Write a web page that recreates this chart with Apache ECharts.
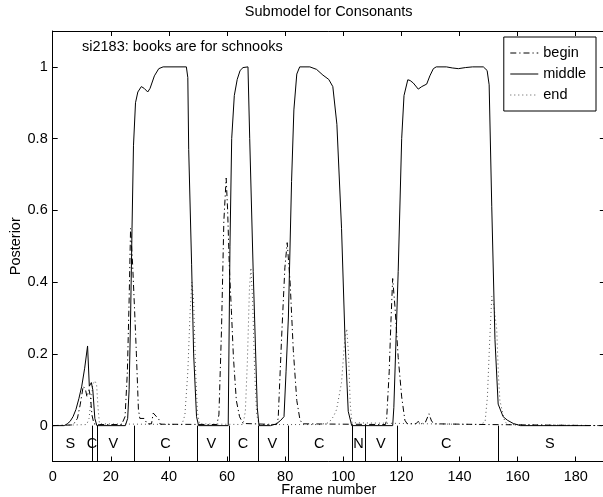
<!DOCTYPE html>
<html>
<head>
<meta charset="utf-8">
<script src="https://cdn.jsdelivr.net/npm/echarts@6/dist/echarts.min.js"></script>
<style>
html,body{margin:0;padding:0;background:#fff;}
#chart{width:603px;height:497px;}
</style>
</head>
<body>
<div id="chart"></div>
<script>
// ---- data ----
const xTicks = [0, 20, 40, 60, 80, 100, 120, 140, 160, 180];
const yTicks = [0, 0.2, 0.4, 0.6, 0.8, 1];

const middle = [
  [0,0],[4,0],[5,0.005],[6,0.012],[7,0.025],[8,0.045],[9,0.075],[10,0.11],[11,0.16],[12,0.222],
  [12.6,0.11],[13.3,0.12],[13.8,0.1],[14.5,0.02],[15.2,0],
  [25,0],[25.8,0.02],[26.3,0.1],[26.8,0.3],[27.3,0.55],[27.8,0.78],[28.5,0.9],[29.3,0.93],[30.5,0.945],
  [31.5,0.94],[32.7,0.93],[33.5,0.94],[35,0.975],[36.5,0.995],[38,1.0],[46,1.0],[46.5,0.97],[46.8,0.77],
  [47.8,0.45],[48.5,0.2],[49.5,0.025],[50.2,0],
  [60.4,0],[61,0.5],[61.6,0.8],[62.5,0.92],[63.5,0.965],[64.5,0.99],[65.5,0.998],[67.2,1.0],[67.8,0.8],
  [69,0.43],[70.4,0.05],[71,0],
  [75,0],[77,0.005],[78.5,0.015],[79.6,0.025],[80.3,0.15],[81.1,0.3],[82.2,0.68],[83,0.88],[84,0.98],
  [85,1.0],[88.5,1.0],[90.8,0.993],[93,0.977],[95,0.965],[96.4,0.945],[97.8,0.84],[99.4,0.55],
  [100.6,0.24],[101.7,0.04],[102.9,0],
  [117,0],[117.4,0.05],[118.9,0.43],[120.1,0.8],[120.9,0.92],[122.2,0.964],[123,0.962],[124.1,0.955],
  [125.8,0.938],[127,0.945],[128.7,0.952],[129.8,0.975],[131,0.995],[132,1.0],[135.5,1.0],[137.5,0.997],
  [139.6,0.995],[142,0.998],[144.5,1.0],[148.2,1.0],[149.5,0.99],[150.2,0.95],[151.1,0.61],[152.2,0.24],
  [153.3,0.06],[155,0.025],[156.5,0.015],[158.5,0.006],[161,0],[185,0]
];

const begin = [
  [0,0],[7,0.002],[8.5,0.02],[9.5,0.06],[10.5,0.11],[11.3,0.1],[11.8,0.08],[12.5,0.1],[13,0.08],
  [13.5,0.03],[14.2,0.005],[16,0.003],
  [23.7,0.003],[24.9,0.025],[25.7,0.15],[26.3,0.35],[26.8,0.55],[27.5,0.45],[28.3,0.3],[28.8,0.2],
  [29.5,0.045],[30,0.02],[31.5,0.02],[32.5,0.005],[34,0.005],[34.6,0.035],[36.5,0.018],[37,0.004],
  [56.5,0.003],[57.2,0.03],[58.1,0.27],[58.9,0.57],[59.7,0.69],[60.2,0.6],[60.8,0.44],[61.5,0.32],
  [62.2,0.19],[63.2,0.07],[64.3,0.025],[65.5,0.006],
  [77,0.003],[77.6,0.02],[78.8,0.25],[79.9,0.44],[80.7,0.51],[81.7,0.4],[82.8,0.21],[84,0.07],
  [85.1,0.016],[86,0.005],
  [114.5,0.003],[114.9,0.015],[115.8,0.15],[116.4,0.29],[117,0.41],[117.8,0.33],[118.9,0.19],
  [120.1,0.08],[121.2,0.015],[122,0.005],
  [125,0.005],[125.8,0.012],[126.5,0.004],[128.3,0.01],[129.5,0.033],[130.4,0.012],[131.5,0.005],
  [150,0.003],[189,0]
];

const end = [
  [0,0],[11.7,0.003],[12.5,0.02],[13.2,0.07],[13.8,0.115],[14.5,0.125],[15.1,0.115],[15.6,0.05],[16.1,0.005],
  [44.5,0.003],[45.5,0.03],[46.5,0.15],[47.3,0.32],[47.9,0.4],[48.5,0.35],[49.2,0.15],[49.8,0.04],[50.5,0.005],
  [65.5,0.003],[66.3,0.04],[67,0.18],[67.7,0.38],[68.2,0.44],[68.8,0.35],[69.5,0.15],[70.2,0.03],[71,0.003],
  [92,0.003],[95,0.008],[96.6,0.025],[97.7,0.045],[99.4,0.12],[100.5,0.24],[101.2,0.27],[101.8,0.2],
  [102.4,0.06],[103,0.008],
  [147,0.003],[148.8,0.01],[149.6,0.08],[150.3,0.22],[151.1,0.36],[151.7,0.34],[152.8,0.27],[153.4,0.14],
  [153.9,0.07],[155.6,0.01],[157,0.003],[189,0]
];

const segBounds = [13.4, 15.2, 27.9, 49.8, 60.7, 70.8, 81.1, 103.1, 107.6, 118.6, 153.1];
const segLabels = ['S','C','V','C','V','C','V','C','N','V','C','S'];
const segLabelX = [6.1, 13.5, 20.9, 38.8, 54.6, 65.5, 75.6, 91.7, 105.2, 112.9, 135.4, 171.1];

// ---- chart ----
const FONT = 'Liberation Sans, Arial, Helvetica, sans-serif';
const FS = 14.5;
const chart = echarts.init(document.getElementById('chart'), null, {renderer: 'canvas'});

const axisCommon = {
  type: 'value',
  splitLine: {show: false},
  axisLine: {show: true, onZero: false, lineStyle: {color: '#000', width: 1}},
  axisTick: {show: true, inside: true, length: 5, lineStyle: {color: '#000', width: 1}}
};

chart.setOption({
  animation: false,
  backgroundColor: '#fff',
  textStyle: {fontFamily: FONT, color: '#000'},
  title: {
    text: 'Submodel for Consonants',
    left: 328.7, top: 4, padding: 0, textAlign: 'center',
    textStyle: {fontFamily: FONT, fontSize: FS, fontWeight: 'normal', color: '#000'}
  },
  grid: {left: 52.7, right: -1.8, top: 31, bottom: 35.5, containLabel: false, outerBoundsMode: 'none'},
  legend: {
    data: ['begin', 'middle', 'end'],
    orient: 'vertical',
    right: 7, top: 37,
    align: 'left',
    itemWidth: 28, itemHeight: 14, itemGap: 5,
    padding: [8, 10, 8, 6],
    borderColor: '#000', borderWidth: 1,
    backgroundColor: '#fff',
    itemStyle: {opacity: 0},
    lineStyle: {width: 1},
    textStyle: {fontFamily: FONT, fontSize: FS, color: '#000', lineHeight: 16}
  },
  xAxis: [
    Object.assign({}, axisCommon, {
      min: 0, max: 190, position: 'bottom',
      axisLabel: {customValues: xTicks, fontFamily: FONT, fontSize: FS, color: '#000', margin: 8},
      axisTick: Object.assign({}, axisCommon.axisTick, {customValues: xTicks}),
      name: 'Frame number', nameLocation: 'middle', nameGap: 21, nameMoveOverlap: false,
      nameTextStyle: {fontFamily: FONT, fontSize: FS, color: '#000'}
    }),
    Object.assign({}, axisCommon, {
      min: 0, max: 190, position: 'top',
      axisLabel: {show: false, customValues: xTicks},
      axisTick: Object.assign({}, axisCommon.axisTick, {customValues: xTicks})
    })
  ],
  yAxis: [
    Object.assign({}, axisCommon, {
      min: -0.1, max: 1.1, position: 'left',
      axisLabel: {customValues: yTicks, fontFamily: FONT, fontSize: FS, color: '#000', margin: 5},
      axisTick: Object.assign({}, axisCommon.axisTick, {customValues: yTicks}),
      name: 'Posterior', nameLocation: 'middle', nameGap: 29, nameMoveOverlap: false,
      nameTextStyle: {fontFamily: FONT, fontSize: FS, color: '#000'}
    }),
    Object.assign({}, axisCommon, {
      min: -0.1, max: 1.1, position: 'right',
      axisLabel: {show: false, customValues: yTicks},
      axisTick: Object.assign({}, axisCommon.axisTick, {customValues: yTicks})
    })
  ],
  graphic: [{
    type: 'text', left: 82, top: 39,
    style: {text: 'si2183: books are for schnooks', fill: '#000', font: FS + 'px ' + FONT}
  }],
  series: [
    {
      name: 'begin', type: 'line', data: begin, symbol: 'none', color: '#000',
      lineStyle: {color: '#000', width: 1, type: [6, 3, 1.2, 3]}, z: 3
    },
    {
      name: 'middle', type: 'line', data: middle, symbol: 'none', color: '#000',
      lineStyle: {color: '#000', width: 1, type: 'solid'}, z: 4
    },
    {
      name: 'end', type: 'line', data: end, symbol: 'none', color: '#555',
      lineStyle: {color: '#555', width: 1, type: [1, 3]}, z: 2
    },
    {
      name: 'segments', type: 'custom', data: segBounds.map(v => [v]),
      renderItem: function (params, api) {
        const x = api.value(0);
        const p0 = api.coord([x, 0]);
        const p1 = api.coord([x, -0.1]);
        return {type: 'line', shape: {x1: Math.round(p0[0]) + 0.5, y1: p0[1], x2: Math.round(p1[0]) + 0.5, y2: p1[1]},
                style: {stroke: '#000', lineWidth: 1}};
      },
      silent: true, z: 5
    },
    {
      name: 'segLabels', type: 'custom', data: segLabelX.map(v => [v]),
      renderItem: function (params, api) {
        const p = api.coord([api.value(0), -0.05]);
        return {type: 'text', x: p[0], y: p[1],
                style: {text: segLabels[params.dataIndex], fill: '#000', fontSize: FS, fontFamily: FONT,
                        align: 'center', verticalAlign: 'middle'}};
      },
      silent: true, z: 5
    }
  ]
});
</script>
</body>
</html>
